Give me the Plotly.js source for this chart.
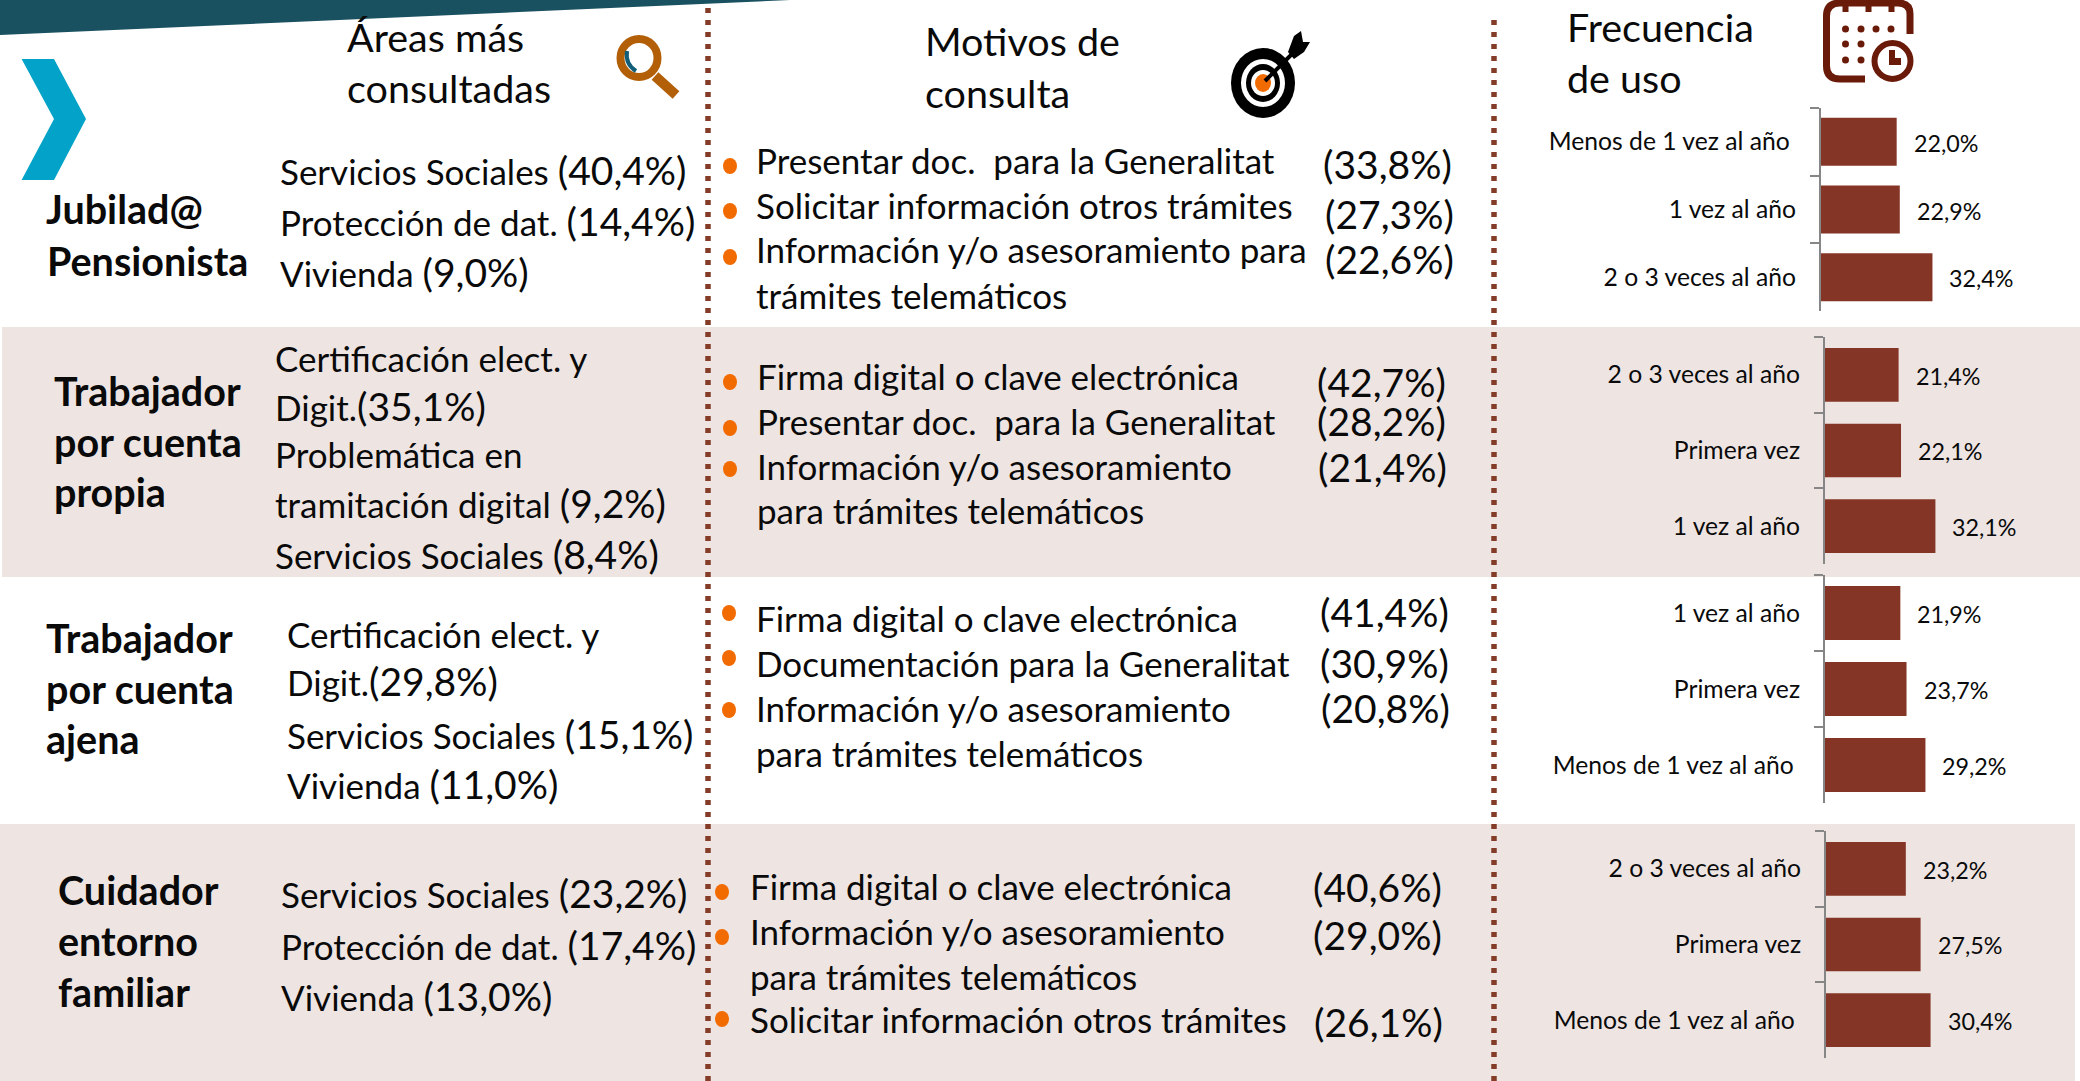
<!DOCTYPE html>
<html>
<head>
<meta charset="utf-8">
<script src="https://cdn.plot.ly/plotly-3.0.1.min.js"></script>
<style>html,body{margin:0;padding:0;background:#fff}#chart{width:2080px;height:1081px}</style>
</head>
<body>
<div id="chart"></div>
<script>
// ---- Chart content ----
const freqLabelsJubilado = ["Menos de 1 vez al año\u00a0", "1 vez al año", "2 o 3 veces al año"];
const freqValuesJubilado = [22.0, 22.9, 32.4];
const freqLabelsPropia = ["2 o 3 veces al año", "Primera vez", "1 vez al año"];
const freqValuesPropia = [21.4, 22.1, 32.1];
const freqLabelsAjena = ["1 vez al año", "Primera vez", "Menos de 1 vez al año\u00a0"];
const freqValuesAjena = [21.9, 23.7, 29.2];
const freqLabelsCuidador = ["2 o 3 veces al año", "Primera vez", "Menos de 1 vez al año\u00a0"];
const freqValuesCuidador = [23.2, 27.5, 30.4];

const headerLines = ["Áreas más", "consultadas", "Motivos de", "consulta", "Frecuencia", "de uso"];
const groupLines = ["Jubilad@", "Pensionista", "Trabajador", "por cuenta", "propia",
                    "Trabajador", "por cuenta", "ajena", "Cuidador", "entorno", "familiar"];
const areaTexts = ["Servicios Sociales", "Protección de dat.", "Vivienda",
                   "Certificación elect. y", "Digit.", "Problemática en", "tramitación digital", "Servicios Sociales",
                   "Certificación elect. y", "Digit.", "Servicios Sociales", "Vivienda",
                   "Servicios Sociales", "Protección de dat.", "Vivienda"];
const areaPercents = ["(40,4%)", "(14,4%)", "(9,0%)",
                      "", "(35,1%)", "", "(9,2%)", "(8,4%)",
                      "", "(29,8%)", "(15,1%)", "(11,0%)",
                      "(23,2%)", "(17,4%)", "(13,0%)"];
const motivoLines = ["Presentar doc. \u00a0para la Generalitat", "Solicitar información otros trámites", "Información y/o asesoramiento para", "trámites telemáticos",
                     "Firma digital o clave electrónica", "Presentar doc. \u00a0para la Generalitat", "Información y/o asesoramiento", "para trámites telemáticos",
                     "Firma digital o clave electrónica", "Documentación para la Generalitat", "Información y/o asesoramiento", "para trámites telemáticos",
                     "Firma digital o clave electrónica", "Información y/o asesoramiento", "para trámites telemáticos", "Solicitar información otros trámites"];
const motivoPercents = ["(33,8%)", "(27,3%)", "(22,6%)",
                        "(42,7%)", "(28,2%)", "(21,4%)",
                        "(41,4%)", "(30,9%)", "(20,8%)",
                        "(40,6%)", "(29,0%)", "(26,1%)"];

// ---- Placement (pixels in the 2080x1081 frame) ----
const W = 2080, H = 1081;
const FONT = "Lato, Carlito, Calibri, sans-serif";
const INK = "#0a0a0a", BAR = "#843525", DOT = "#843C29", BAND = "#EEE5E3", ORANGE = "#F26B00";
const SIZE = {header: 39.5, group: 39.5, list: 35, pct: 39, tick: 24.7, value: 23.3};
const BASE_K = 0.387;   // distance from line centre to baseline, in em
const TEXT_DX = -2, TEXT_DY = 2;

const headerPos = [[348,50],[348,101],[926,54],[926,106],[1568,40],[1568,91]];
const groupPos = [[47,222],[48,274],[55,404],[55,455],[55,505],[47,651],[47,702],[47,752],[59,903],[59,954],[59,1005]];
const areaPos = [[281,183],[281,234],[281,285],
                 [276,370],[276,419],[276,466],[276,516],[276,567],
                 [288,646],[288,694],[288,747],[288,797],
                 [282,906],[282,958],[282,1009]];
const motivoPos = [[757,172],[757,217],[757,261],[757,306.5],
                   [758,388],[758,433],[758,478],[758,522],
                   [757,630],[757,675],[757,720],[757,765],
                   [751,898],[751,943],[751,988],[751,1031]];
const motivoPctPos = [[1324,177],[1326,227],[1326,272],
                      [1318,395],[1318,434],[1319,480],
                      [1321,625],[1321,676],[1322,721],
                      [1314,900],[1314,948],[1315,1035]];
const bulletPos = [[730,166],[730,211],[730,257],
                   [730,382],[730,428],[730,469],
                   [729,613],[729,658],[729,710],
                   [722,892],[722,937],[722,1019]];
const panels = [
  {labels: freqLabelsJubilado, values: freqValuesJubilado, x: 1821, top: 108, bottom: 311},
  {labels: freqLabelsPropia,   values: freqValuesPropia,   x: 1825, top: 337, bottom: 564},
  {labels: freqLabelsAjena,    values: freqValuesAjena,    x: 1825, top: 575, bottom: 803},
  {labels: freqLabelsCuidador, values: freqValuesCuidador, x: 1826, top: 831, bottom: 1058}
];
const PX_PER_PCT = 3.44, X_MAX = 70;

// ---- Helpers ----
const fx = x => x / W, fy = y => 1 - y / H;
const poly = pts => "M" + pts.map(p => fx(p[0]) + "," + fy(p[1])).join("L") + "Z";
const pathShape = (pts, color) => ({type:"path", xref:"paper", yref:"paper", path:poly(pts), fillcolor:color, line:{width:0}, layer:"below"});
const rect = (x0,y0,x1,y1,color) => ({type:"rect", xref:"paper", yref:"paper", x0:fx(x0), x1:fx(x1), y0:fy(y0), y1:fy(y1), fillcolor:color, line:{width:0}, layer:"below"});
const ell = (cx,cy,rx,ry,fill,stroke,sw) => ({type:"circle", xref:"paper", yref:"paper", x0:fx(cx-rx), x1:fx(cx+rx), y0:fy(cy+ry), y1:fy(cy-ry),
  fillcolor:fill, line:{width:sw||0, color:stroke||fill}, layer:"below"});
const seg = (x0,y0,x1,y1,color,w,dash) => ({type:"line", xref:"paper", yref:"paper", x0:fx(x0), x1:fx(x1), y0:fy(y0), y1:fy(y1), line:{color:color, width:w, dash:dash||"solid"}, layer:"below"});
const curve = (d,color,w,fill) => ({type:"path", xref:"paper", yref:"paper", path:d, line:{color:color, width:w}, fillcolor:fill||"rgba(0,0,0,0)", layer:"below"});

const textAt = (x, baseline, text, size, extra) => Object.assign({
  xref:"paper", yref:"paper", x:fx(x + TEXT_DX), y:fy(baseline + TEXT_DY - BASE_K*size), xanchor:"left", yanchor:"middle",
  text:text, showarrow:false, align:"left", font:{family:FONT, size:size, color:INK}, borderpad:0, captureevents:false
}, extra||{});

// ---- Decoration ----
const shapes = [
  rect(2,327,W,577,BAND),
  rect(0,824,2075,H,BAND),
  pathShape([[0,0],[790,0],[0,35]], "#1A5161"),
  pathShape([[21.6,59],[54,59],[86,119],[54,180],[21.6,180],[54,119]], "#03A3C9"),
  seg(708,8,708,H,DOT,5.5,"5px,7px"),
  seg(1494,20,1494,H,DOT,5.5,"5px,7px"),
  // magnifier
  ell(639,58,18.5,19,"rgba(0,0,0,0)","#B25F07",8),
  seg(655,76,676,95,"#B25F07",10),
  curve(`M${fx(627)},${fy(51)}Q${fx(625)},${fy(64)} ${fx(636)},${fy(71)}`,"#125E78",4),
  // target
  ell(1263,83,32,35,"#000"),
  ell(1263,83,22,24,"#fff"),
  ell(1263,83,17,19,"#000"),
  ell(1263,83,12,13,"#fff"),
  ell(1263,83,8,9,ORANGE),
  seg(1265,81,1296,50,"#000",4),
  pathShape([[1288,52],[1294,36],[1301,31],[1303,42],[1310,42],[1304,52],[1294,59]], "#000"),
  // calendar
  curve("M"+[[1910,34],[1910,14]].map(p=>fx(p[0])+","+fy(p[1])).join("L")+
        `Q${fx(1910)},${fy(3)} ${fx(1898)},${fy(3)}L${fx(1840)},${fy(3)}Q${fx(1826.5)},${fy(3)} ${fx(1826.5)},${fy(16)}L${fx(1826.5)},${fy(66)}Q${fx(1826.5)},${fy(79)} ${fx(1840)},${fy(79)}L${fx(1865)},${fy(79)}`,"#6A1A08",7),
  ell(1892.5,61,18,18,"#fff","#6A1A08",6),
  pathShape([[1889,50],[1895,50],[1895,58],[1901,58],[1901,65],[1889,65]], "#6A1A08")
];
[1845.5,1868.5,1891.5].forEach(x => shapes.push(seg(x,0,x,12,"#6A1A08",6)));
[[1845.5,29],[1861,29],[1876,29],[1891,29],[1845.5,44],[1861,44],[1845.5,60],[1861,60]].forEach(p => shapes.push(ell(p[0],p[1],3.5,3.5,"#6A1A08")));
bulletPos.forEach(p => shapes.push(ell(p[0],p[1],7,8,ORANGE)));

// ---- Text ----
const annotations = [];
headerLines.forEach((t,i) => annotations.push(textAt(headerPos[i][0], headerPos[i][1], t, SIZE.header)));
groupLines.forEach((t,i) => annotations.push(textAt(groupPos[i][0], groupPos[i][1], "<b>"+t+"</b>", SIZE.group)));
areaTexts.forEach((t,i) => {
  const pct = areaPercents[i];
  const joiner = t.endsWith(".") && t.length < 8 ? "" : " ";
  const rich = pct ? t + joiner + `<span style="font-size:${SIZE.pct}px">${pct}</span>` : t;
  annotations.push(textAt(areaPos[i][0], areaPos[i][1], rich, pct ? SIZE.pct : SIZE.list, {font:{family:FONT,size:SIZE.list,color:INK}}));
});
motivoLines.forEach((t,i) => annotations.push(textAt(motivoPos[i][0], motivoPos[i][1], t, SIZE.list)));
motivoPercents.forEach((t,i) => annotations.push(textAt(motivoPctPos[i][0], motivoPctPos[i][1], t, SIZE.pct)));

// ---- Bar panels ----
const data = [];
const layout = {
  width:W, height:H, margin:{l:0,r:0,t:0,b:0}, paper_bgcolor:"#fff", plot_bgcolor:"rgba(0,0,0,0)",
  showlegend:false, bargap:0.29, shapes:shapes, annotations:annotations, font:{family:FONT, color:INK}
};
panels.forEach((p,i) => {
  const n = i === 0 ? "" : String(i+1);
  data.push({type:"bar", orientation:"h", x:p.values, y:p.labels, xaxis:"x"+n, yaxis:"y"+n,
    marker:{color:BAR}, hoverinfo:"skip"});
  layout["xaxis"+n] = {domain:[fx(p.x), fx(p.x + PX_PER_PCT*X_MAX)], range:[0,X_MAX], visible:false, fixedrange:true, anchor:"y"+n};
  layout["yaxis"+n] = {domain:[fy(p.bottom), fy(p.top)], type:"category", range:[2.5,-0.5], anchor:"x"+n, fixedrange:true,
    showline:true, linecolor:"#868686", linewidth:2, ticks:"outside", ticklen:9, tickwidth:2, tickcolor:"#868686", tickson:"boundaries",
    showgrid:false, zeroline:false, ticklabelstandoff:18, tickfont:{family:FONT,size:SIZE.tick,color:INK}};
  p.values.forEach((v,k) => annotations.push({xref:"x"+n, yref:"y"+n, x:v, y:p.labels[k], xanchor:"left", yanchor:"middle", xshift:15, yshift:-1,
    text:v.toFixed(1).replace(".",",")+"%", showarrow:false, font:{family:FONT,size:SIZE.value,color:INK}}));
});

Plotly.newPlot("chart", data, layout, {displayModeBar:false, staticPlot:true});
</script>
</body>
</html>
